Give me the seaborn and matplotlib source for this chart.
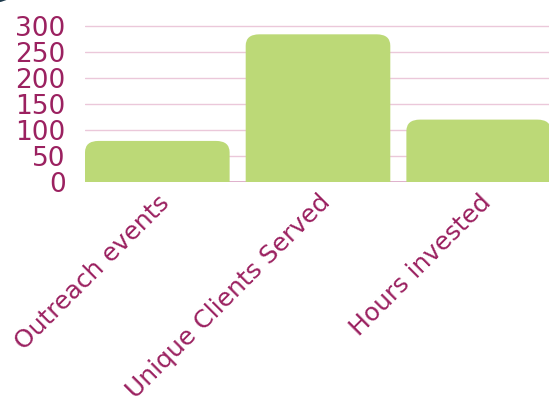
import matplotlib
matplotlib.use("Agg")
import matplotlib.pyplot as plt
import seaborn as sns
import pandas as pd
from matplotlib.patches import FancyBboxPatch, Ellipse

categories = ["Outreach events", "Unique Clients Served", "Hours invested"]
values = [79, 284, 120]
yticks = [0, 50, 100, 150, 200, 250, 300]

bar_color = "#bcd977"
text_color = "#9b2160"
grid_color = "#ebc8da"

sns.set_theme(style="white")
plt.rcParams["font.family"] = ["DejaVu Sans"]

df = pd.DataFrame({"metric": categories, "value": values})

fig = plt.figure(figsize=(5.49, 4.05), dpi=100)
ax = fig.add_axes([85 / 549, 223 / 405, (551 - 85) / 549, 161.2 / 405])
sns.barplot(data=df, x="metric", y="value", color=bar_color, width=0.9,
            saturation=1, ax=ax, zorder=3)

# swap plain bars for ones with rounded tops
r_x = 0.085
aspect = 22.0 / r_x
for p in list(ax.patches):
    x, w, h = p.get_x(), p.get_width(), p.get_height()
    p.remove()
    ax.add_patch(FancyBboxPatch((x, -30), w, h + 30,
                                boxstyle=f"round,pad=0,rounding_size={r_x}",
                                mutation_aspect=aspect, facecolor=bar_color,
                                edgecolor="none", zorder=3))

ax.set_ylim(0, 310)
ax.set_xlim(-0.45, 2.45)
ax.set_yticks(yticks)
for y in yticks[1:]:
    ax.axhline(y, color=grid_color, lw=1, zorder=1)
ax.axhline(0, color="#d9a3c2", lw=1.2, zorder=2)

for s in ax.spines.values():
    s.set_visible(False)
ax.set_xlabel("")
ax.set_ylabel("")
ax.tick_params(axis="y", length=0, pad=14, labelsize=19, labelcolor=text_color)
ax.tick_params(axis="x", length=0, pad=6, labelsize=18, labelcolor=text_color)
plt.setp(ax.get_xticklabels(), rotation=45, ha="right", rotation_mode="anchor")

# dark corner shape peeking in at the top left
fig.patches.append(Ellipse((-0.03, 1.04), 0.14, 0.1, transform=fig.transFigure,
                           facecolor="#1f3a4d", edgecolor="none"))

fig.savefig("out.png", dpi=100)
